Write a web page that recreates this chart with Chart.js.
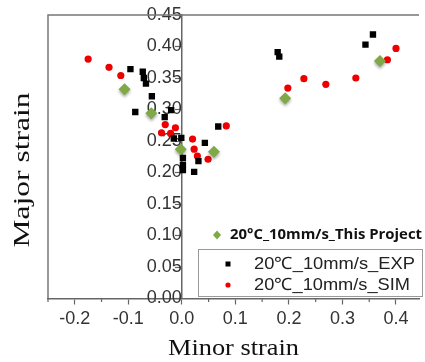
<!DOCTYPE html>
<html>
<head>
<meta charset="utf-8">
<script src="https://cdn.jsdelivr.net/npm/chart.js@4.4.1/dist/chart.umd.min.js"></script>
<style>
  html, body { margin: 0; padding: 0; background: #fff; }
  canvas { display: block; }
</style>
</head>
<body>
<canvas id="chart" width="425" height="362"></canvas>
<script>
// values
let projX = [-0.107, -0.057, -0.002, 0.060, 0.193, 0.370];
let projY = [0.332, 0.294, 0.237, 0.233, 0.318, 0.377];

let expX = [-0.096, -0.073, -0.071, -0.067, -0.056, -0.087, -0.020, -0.032, -0.015, -0.001, 0.043,
            0.031, 0.002, 0.002, 0.002, 0.023, 0.068, 0.179, 0.182, 0.343, 0.357];
let expY = [0.364, 0.360, 0.350, 0.341, 0.321, 0.296, 0.299, 0.288, 0.254, 0.255, 0.247,
            0.218, 0.223, 0.212, 0.204, 0.201, 0.273, 0.391, 0.384, 0.403, 0.419];

let simX = [-0.175, -0.136, -0.114, -0.031, -0.012, -0.038, -0.021, 0.020, 0.023, 0.029, 0.049,
            0.083, 0.198, 0.228, 0.269, 0.325, 0.384, 0.400];
let simY = [0.380, 0.367, 0.354, 0.276, 0.271, 0.263, 0.262, 0.253, 0.237, 0.226, 0.221,
            0.274, 0.334, 0.349, 0.340, 0.350, 0.379, 0.397];

let labels = ["20°C_10mm/s_This Project", "20℃_10mm/s_EXP", "20℃_10mm/s_SIM"];
let xTitle = "Minor strain";
let yTitle = "Major strain";
let xTicks = [-0.2, -0.1, 0.0, 0.1, 0.2, 0.3, 0.4];
let xMinorTicks = [-0.25, -0.15, -0.05, 0.05, 0.15, 0.25, 0.35];
let yTicks = [0.00, 0.05, 0.10, 0.15, 0.20, 0.25, 0.30, 0.35, 0.40, 0.45];

function toPoints(xs, ys) {
    return xs.map((x, i) => ({ x: x, y: ys[i] }));
}

// draw text squeezed/stretched to a given width
function fitText(ctx, text, x, y, width, rotate) {
    let w = ctx.measureText(text).width;
    ctx.save();
    ctx.translate(x, y);
    if (rotate) ctx.rotate(-Math.PI / 2);
    ctx.scale(width / w, 1);
    ctx.fillText(text, 0, 0);
    ctx.restore();
}

const shadowPlugin = {
    id: "shadow",
    beforeDatasetDraw(chart, args) {
        if (args.index !== 0) return;
        let ctx = chart.ctx;
        ctx.save();
        ctx.shadowColor = "rgba(0,0,0,0.35)";
        ctx.shadowBlur = 3;
        ctx.shadowOffsetY = 2;
    },
    afterDatasetDraw(chart, args) {
        if (args.index === 0) chart.ctx.restore();
    }
};

const decorPlugin = {
    id: "decor",
    afterDraw(chart) {
        let ctx = chart.ctx;
        let area = chart.chartArea;
        let xs = chart.scales.x;

        // frame: left and top lines
        ctx.save();
        ctx.strokeStyle = "#777";
        ctx.lineWidth = 1.5;
        ctx.beginPath();
        ctx.moveTo(area.left, area.bottom);
        ctx.lineTo(area.left, area.top);
        ctx.lineTo(area.right, area.top);
        ctx.stroke();

        // minor ticks on x axis
        ctx.lineWidth = 1.2;
        ctx.strokeStyle = "#666";
        xMinorTicks.forEach(v => {
            let px = xs.getPixelForValue(v);
            ctx.beginPath();
            ctx.moveTo(px, area.bottom);
            ctx.lineTo(px, area.bottom + 3.5);
            ctx.stroke();
        });

        // axis titles
        ctx.fillStyle = "#111";
        ctx.font = "24px 'Liberation Serif', 'Times New Roman', serif";
        ctx.textAlign = "center";
        ctx.textBaseline = "middle";
        fitText(ctx, xTitle, (area.left + area.right) / 2, 349, 131, false);
        fitText(ctx, yTitle, 23, 170, 155, true);

        // legend
        ctx.fillStyle = "#fff";
        ctx.fillRect(198, 249, 224, 47);
        ctx.strokeStyle = "#999";
        ctx.lineWidth = 1;
        ctx.strokeRect(198.5, 249.5, 224, 47);

        let ds = chart.data.datasets;
        ctx.fillStyle = ds[0].backgroundColor;
        ctx.beginPath();
        ctx.moveTo(217, 230.5); ctx.lineTo(221, 235); ctx.lineTo(217, 239.5); ctx.lineTo(213, 235);
        ctx.closePath();
        ctx.fill();
        ctx.fillStyle = "#111";
        ctx.font = "bold 15px 'Open Sans', sans-serif";
        fitText(ctx, labels[0], 230 + 96, 235, 192, false);

        ctx.fillStyle = ds[1].backgroundColor;
        ctx.fillRect(225.5, 261.5, 5, 5);
        ctx.fillStyle = ds[2].backgroundColor;
        ctx.beginPath();
        ctx.arc(228, 285, 2.6, 0, Math.PI * 2);
        ctx.fill();

        ctx.fillStyle = "#222";
        ctx.font = "17px 'Liberation Sans', Arial, sans-serif";
        fitText(ctx, labels[1], 254 + 80.5, 264, 161, false);
        fitText(ctx, labels[2], 254 + 78, 285, 156, false);
        ctx.restore();
    }
};

let ctx = document.getElementById("chart").getContext("2d");
let tickFont = { family: "'Liberation Sans', Arial, sans-serif", size: 18 };

new Chart(ctx, {
    type: "scatter",
    data: {
        datasets: [
            {
                label: labels[0], data: toPoints(projX, projY),
                pointStyle: "rectRot", pointRadius: 6, backgroundColor: "#7fa846", borderWidth: 0
            },
            {
                label: labels[1], data: toPoints(expX, expY),
                pointStyle: "rect", pointRadius: 4.5, backgroundColor: "#000", borderWidth: 0
            },
            {
                label: labels[2], data: toPoints(simX, simY),
                pointStyle: "circle", pointRadius: 3.6, backgroundColor: "#ee0000", borderWidth: 0
            }
        ]
    },
    options: {
        responsive: false,
        animation: false,
        layout: { padding: { left: 48, top: 15, right: 0, bottom: 0 } },
        plugins: { legend: { display: false }, tooltip: { enabled: false } },
        scales: {
            x: {
                type: "linear", position: "bottom",
                min: -0.25, max: 0.443,
                afterFit: s => { s.height = 63.5; },
                afterBuildTicks: s => { s.ticks = xTicks.map(v => ({ value: v })); },
                grid: { drawOnChartArea: false, drawTicks: true, tickLength: 6, tickColor: "#666", tickWidth: 1.2 },
                border: { display: true, color: "#666", width: 1.5 },
                ticks: {
                    autoSkip: false, maxRotation: 0, padding: 4,
                    color: "#333", font: tickFont,
                    callback: v => v.toFixed(1)
                }
            },
            y: {
                type: "linear", position: { x: 0 },
                min: 0, max: 0.45,
                afterBuildTicks: s => { s.ticks = yTicks.map(v => ({ value: v })); },
                grid: { drawOnChartArea: false, drawTicks: true, tickLength: 6, tickColor: "#666", tickWidth: 1.2 },
                border: { display: true, color: "#666", width: 1.5 },
                ticks: {
                    autoSkip: false, padding: 3, color: "#333", font: tickFont,
                    callback: v => v.toFixed(2)
                }
            }
        }
    },
    plugins: [shadowPlugin, decorPlugin]
});
</script>
</body>
</html>
